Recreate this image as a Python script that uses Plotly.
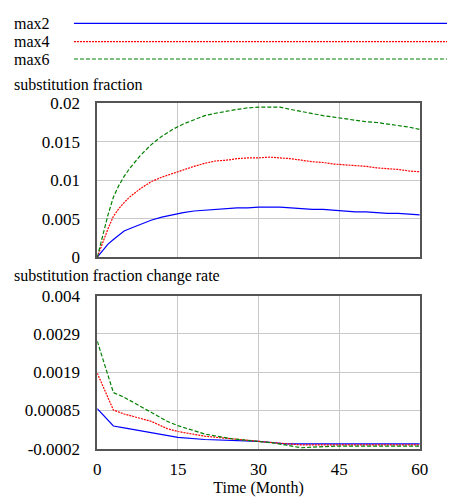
import plotly.graph_objects as go

t_frac = [0, 1, 2, 3, 4, 5, 6, 8, 10, 12, 14, 16, 18, 20, 22, 24, 26, 28, 30, 32, 34, 36, 38, 40, 42, 44, 46, 48, 50, 52, 54, 56, 58, 60]
frac_max2 = [0, 0.0009, 0.0017, 0.0023, 0.0029, 0.0034, 0.0037, 0.0043, 0.0048, 0.0052, 0.0055, 0.0058, 0.0060, 0.0061, 0.0062, 0.0063, 0.0064, 0.0064, 0.0065, 0.0065, 0.0065, 0.0064, 0.0063, 0.0062, 0.0062, 0.0061, 0.0060, 0.0059, 0.0059, 0.0058, 0.0057, 0.0057, 0.0056, 0.0055]
frac_max4 = [0, 0.0019, 0.0037, 0.0053, 0.0063, 0.0071, 0.0078, 0.0089, 0.0098, 0.0104, 0.0109, 0.0114, 0.0118, 0.0122, 0.0125, 0.0126, 0.0128, 0.0129, 0.0129, 0.0130, 0.0129, 0.0128, 0.0126, 0.0124, 0.0123, 0.0121, 0.0120, 0.0119, 0.0118, 0.0116, 0.0115, 0.0114, 0.0112, 0.0111]
frac_max6 = [0, 0.0028, 0.0055, 0.0078, 0.0093, 0.0105, 0.0115, 0.0132, 0.0146, 0.0157, 0.0166, 0.0173, 0.0179, 0.0184, 0.0187, 0.0190, 0.0192, 0.0194, 0.0195, 0.0195, 0.0195, 0.0192, 0.0189, 0.0186, 0.0184, 0.0182, 0.0180, 0.0178, 0.0176, 0.0175, 0.0173, 0.0171, 0.0169, 0.0166]

t_rate = [0, 3, 5, 10, 13, 15, 20, 25, 30, 33, 35, 38, 40, 45, 50, 55, 60]
rate_max2 = [0.0009, 0.00042, 0.00037, 0.00024, 0.00015, 0.00011, 0.00005, 0.00002, 0.0, -0.00004, -0.00007, -0.00007, -0.00007, -0.00007, -0.00007, -0.00007, -0.00007]
rate_max4 = [0.00187, 0.00086, 0.00075, 0.00055, 0.00035, 0.00027, 0.00014, 0.00006, 0.0, -0.00004, -0.00007, -0.0001, -0.0001, -0.0001, -0.0001, -0.0001, -0.0001]
rate_max6 = [0.00275, 0.00134, 0.00121, 0.00081, 0.00055, 0.00043, 0.0002, 0.00007, 0.0, -0.00005, -0.0001, -0.00018, -0.00016, -0.00013, -0.00013, -0.00012, -0.00013]

rate_tickvals = [-0.0002, 0.00085, 0.0019, 0.00295, 0.004]
rate_ticktext = ["-0.0002", "0.00085", "0.0019", "0.0029", "0.004"]
frac_tickvals = [0, 0.005, 0.01, 0.015, 0.02]
frac_ticktext = ["0", "0.005", "0.01", "0.015", "0.02"]
x_tickvals = [0, 15, 30, 45, 60]

names = ["max2", "max4", "max6"]
colors = ["#0000ff", "#ff0000", "#008000"]
dashes = ["solid", "2px,1px", "4px,2px"]

FONT = '"Liberation Serif", "DejaVu Serif", serif'
W, H = 456, 499

fig = go.Figure()
for i, (fr, rr) in enumerate([(frac_max2, rate_max2), (frac_max4, rate_max4), (frac_max6, rate_max6)]):
    fig.add_trace(go.Scatter(x=t_frac, y=fr, mode="lines", name=names[i],
                             line=dict(color=colors[i], dash=dashes[i], width=1.2),
                             xaxis="x", yaxis="y", showlegend=False))
    fig.add_trace(go.Scatter(x=t_rate, y=rr, mode="lines", name=names[i],
                             line=dict(color=colors[i], dash=dashes[i], width=1.2),
                             xaxis="x2", yaxis="y2", showlegend=False))

xdom = [96 / W, 428 / W]
top_dom = [1 - 258 / H, 1 - 98 / H]
bot_dom = [1 - 457 / H, 1 - 298 / H]

axis_common = dict(showline=True, mirror=True, linecolor="#555555", linewidth=1.5,
                   showgrid=True, gridcolor="#c8c8c8", gridwidth=1, zeroline=False,
                   ticks="", tickfont=dict(family=FONT, size=17, color="#000"))

fig.update_layout(
    width=W, height=H, autosize=False, margin=dict(l=0, r=0, t=0, b=0, pad=0),
    plot_bgcolor="white", paper_bgcolor="white",
    font=dict(family=FONT, color="#000"),
    xaxis=dict(domain=xdom, anchor="y", range=[0, 60], tickvals=x_tickvals,
               showticklabels=False, **axis_common),
    yaxis=dict(domain=top_dom, anchor="x", range=[0, 0.02], tickvals=frac_tickvals,
               ticktext=frac_ticktext, ticklabelstandoff=12, **axis_common),
    xaxis2=dict(domain=xdom, anchor="y2", range=[0, 60], tickvals=x_tickvals,
                ticklabelstandoff=4,
                title=dict(text="Time (Month)", font=dict(family=FONT, size=16), standoff=0),
                **axis_common),
    yaxis2=dict(domain=bot_dom, anchor="x2", range=[-0.0002, 0.004], tickvals=rate_tickvals,
                ticktext=rate_ticktext, ticklabelstandoff=12, **axis_common),
)

# legend block (top)
leg_y = [15, 34, 52]
for i in range(3):
    fig.add_annotation(x=12 / W, y=1 - leg_y[i] / H, xref="paper", yref="paper",
                       text=names[i], showarrow=False, xanchor="left", yanchor="middle",
                       xshift=-3, borderpad=0,
                       font=dict(family=FONT, size=16, color="#000"))
    fig.add_shape(type="line", xref="paper", yref="paper",
                  x0=72 / W, x1=1.0, y0=1 - leg_y[i] / H, y1=1 - leg_y[i] / H,
                  line=dict(color=colors[i], dash=dashes[i], width=1.2))

fig.add_annotation(x=12 / W, y=1 - 79 / H, xref="paper", yref="paper",
                   text="substitution fraction", showarrow=False, xanchor="left",
                   yanchor="middle", xshift=-3, borderpad=0,
                   font=dict(family=FONT, size=16, color="#000"))
fig.add_annotation(x=12 / W, y=1 - 278 / H, xref="paper", yref="paper",
                   text="substitution fraction change rate", showarrow=False, xanchor="left",
                   yanchor="middle", xshift=-3, borderpad=0,
                   font=dict(family=FONT, size=16, color="#000"))

fig.write_html("out.html", config={"responsive": False})
